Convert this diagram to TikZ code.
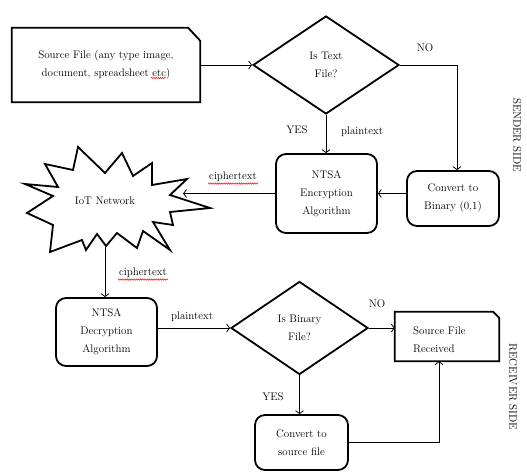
\documentclass[tikz,border=0pt]{standalone}
\usetikzlibrary{shapes.geometric,arrows.meta,calc,decorations.pathmorphing}
\tikzset{
  every node/.style={font=\fontsize{11}{18}\selectfont},
  box/.style={draw, line width=1.8pt, rounded corners=10pt, align=center, inner sep=0pt},
  dia/.style={draw, diamond, line width=1.8pt, inner sep=0pt, align=center},
  plainbox/.style={inner sep=0pt, align=center},
  conn/.style={line width=0.8pt, -{Straight Barb[length=3pt,width=8pt]}},
  outline/.style={line width=1.8pt, line join=miter},
  lbl/.style={inner sep=1pt},
  sidelbl/.style={inner sep=1pt, rotate=-90},
  squig/.style={red, line width=0.5pt, decorate, decoration={snake, amplitude=0.7pt, segment length=2.2pt}}
}
\begin{document}
\begin{tikzpicture}[x=1pt,y=-1pt]
\path[use as bounding box] (0,0) rectangle (527,476);

% Source file
\node[plainbox, minimum width=188pt, minimum height=74pt] (src) at (106,65) {Source File (any type image,\\document, spreadsheet etc)};
\draw[outline] (src.south west) -- (src.north west) -- ($(src.north east)+(-12,0)$) -- ($(src.north east)+(0,13)$) -- (src.south east) -- cycle;
\draw[squig] (151,78) -- (166,78);

% decision 1
\node[dia, minimum width=146pt, minimum height=98pt] (d1) at (326,65) {Is Text\\File?};

% encryption
\node[box, minimum width=101pt, minimum height=79pt] (enc) at (326.5,193.5) {NTSA\\Encryption\\Algorithm};
\node[box, minimum width=92pt, minimum height=55pt] (bin) at (453,198.5) {Convert to\\Binary (0,1)};

% IoT network starburst
\draw[outline] (25,184) -- (53,196) -- (27,213) -- (53,225) -- (50,252) -- (82,240) -- (86,250) -- (97,234) -- (106,246) -- (117,233) -- (137,248) -- (143,231) -- (170,250) -- (153,222) -- (173,225) -- (170,212) -- (210,208) -- (170,195) -- (187,179) -- (152,185) -- (152,163) -- (133,176) -- (122,153) -- (105,173) -- (78,147) -- (73,170) -- (45,164) -- (58,187) -- cycle;
\node (iot) at (105,201) {IoT Network};
\coordinate (iotR) at (183,193.5);
\coordinate (iotB) at (105,246);

% decryption
\node[box, minimum width=101pt, minimum height=68pt] (dec) at (106.5,332) {NTSA\\Decryption\\Algorithm};
\node[dia, minimum width=137pt, minimum height=93pt] (d2) at (299.5,328) {Is Binary\\File?};

% received
\node[plainbox, minimum width=104pt, minimum height=49pt] (rcv) at (447,336.5) {};
\draw[outline] (rcv.south west) -- (rcv.north west) -- ($(rcv.north east)+(-6,0)$) -- ($(rcv.north east)+(0,6)$) -- (rcv.south east) -- cycle;
\node[anchor=west, align=left, inner sep=0pt] (rcvt) at (413,340) {Source File\\Received};

\node[box, minimum width=93pt, minimum height=55pt] (cvs) at (301.5,442.5) {Convert to\\source file};

% connectors
\draw[conn] (src.east) -- (d1.west);
\draw[conn] (d1.south) -- (d1.south |- enc.north);
\draw[conn] (d1.east) -| ([xshift=4pt]bin.north);
\draw[conn] (bin.west |- enc.east) -- (enc.east);
\draw[conn] (enc.west) -- (iotR);
\draw[conn] (iotB) -- (iotB |- dec.north);
\draw[conn] (dec.east |- d2.west) -- (d2.west);
\draw[conn] (d2.east) -- (d2.east -| rcv.west);
\draw[conn] (d2.south) -- (d2.south |- cvs.north);
\draw[conn] (cvs.east) -| ([xshift=-8pt]rcv.south);

% labels
\node[lbl] (no1) at (425,48) {NO};
\node[lbl] (yes1) at (297,130) {YES};
\node[lbl] (pt1) at (362,132) {plaintext};
\node[lbl] (ct1) at (233,177) {ciphertext};
\draw[squig] ([yshift=-0.5pt]ct1.south west) -- ([yshift=-0.5pt]ct1.south east);
\node[lbl] (ct2) at (143,273) {ciphertext};
\draw[squig] ([yshift=-0.5pt]ct2.south west) -- ([yshift=-0.5pt]ct2.south east);
\node[lbl] (pt2) at (192,317) {plaintext};
\node[lbl] (no2) at (377,304) {NO};
\node[lbl] (yes2) at (273,397) {YES};
\node[sidelbl] (snd) at (517,135) {SENDER SIDE};
\node[sidelbl] (rcvside) at (513,387) {RECEIVER SIDE};
\end{tikzpicture}
\end{document}
